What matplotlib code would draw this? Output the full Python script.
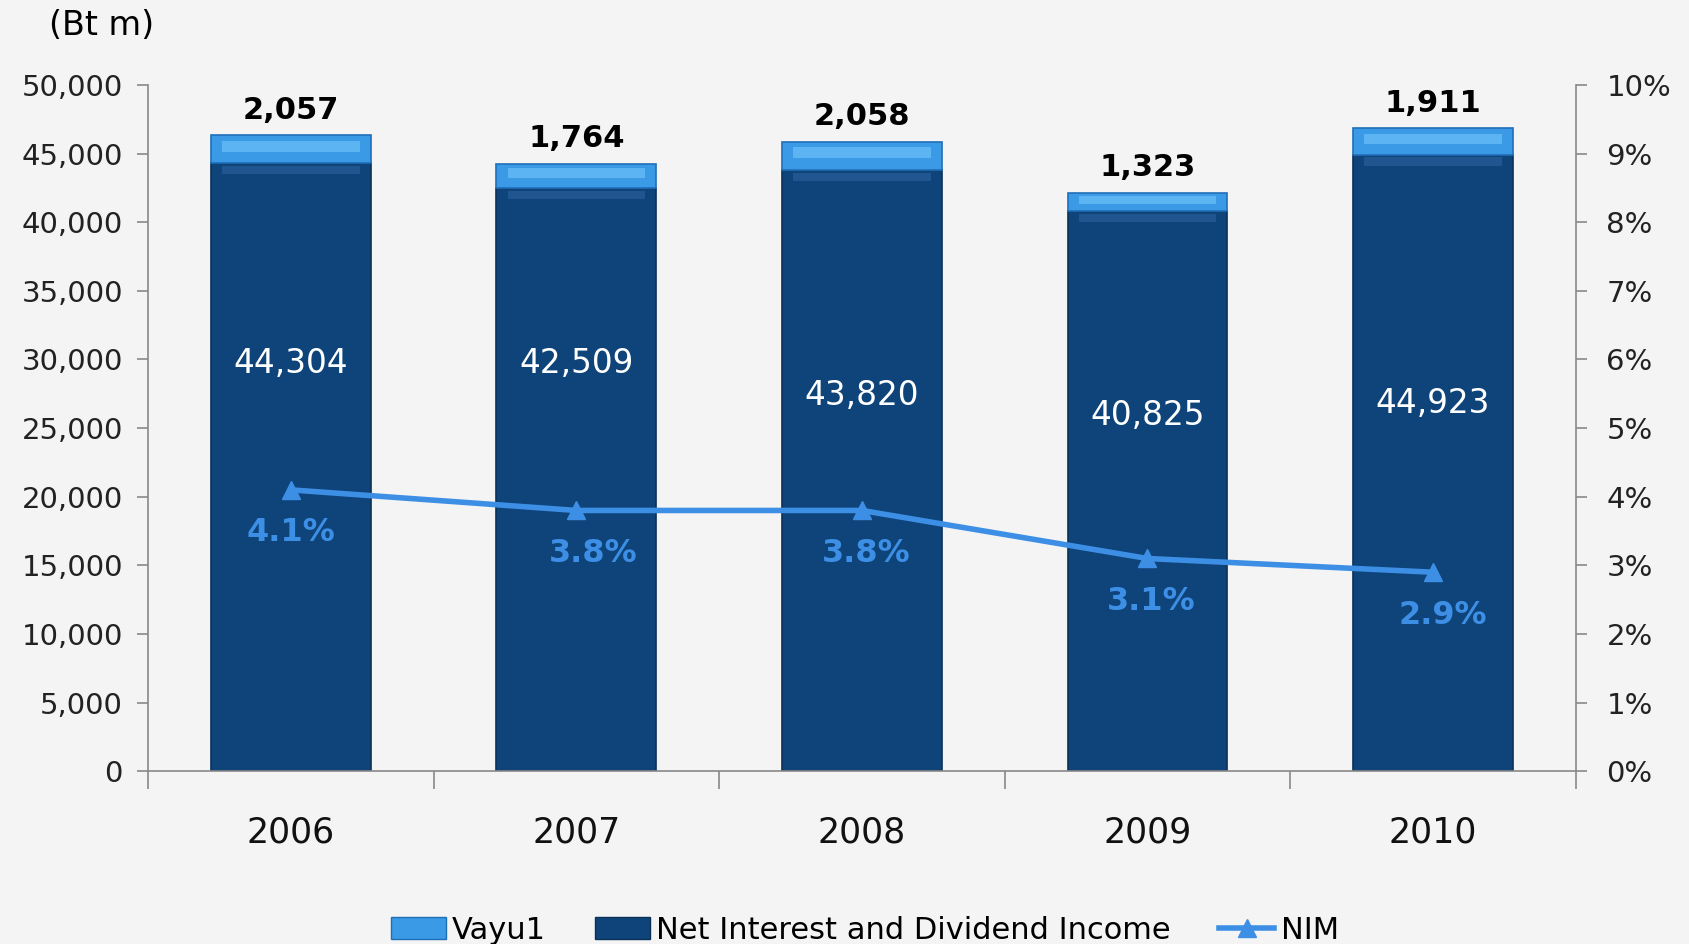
import matplotlib
matplotlib.use("Agg")
import matplotlib.pyplot as plt
from matplotlib.lines import Line2D
from matplotlib.patches import Patch
import numpy as np

years = ["2006", "2007", "2008", "2009", "2010"]
net_interest = [44304, 42509, 43820, 40825, 44923]
vayu1 = [2057, 1764, 2058, 1323, 1911]
nim = [4.1, 3.8, 3.8, 3.1, 2.9]

y_ticks = [0, 5000, 10000, 15000, 20000, 25000, 30000, 35000, 40000, 45000, 50000]
pct_ticks = list(range(0, 11))

# layout: vertical positions of the inner (white) labels, as placed in the reference
inner_label_y = [29700, 29700, 27400, 25900, 26800]
nim_label_dx = [0, 12, 3, 3, 7]

plt.rcParams['font.family'] = ['DejaVu Sans']
fig = plt.figure(figsize=(16.89, 9.44), dpi=100, facecolor='#f4f4f4')
ax = fig.add_axes([0.0876, 0.183, 0.8454, 0.727])
ax.set_facecolor('#f4f4f4')

x = np.arange(len(years))
w = 0.56
dark = '#0e4479'
light = '#3b9ae6'
ax.bar(x, net_interest, w, color=dark, edgecolor='#0a3158', linewidth=1.2, zorder=2)
ax.bar(x, vayu1, w, bottom=net_interest, color=light, edgecolor='#1f6fb8', linewidth=1.2, zorder=2)
# bevel highlights
ax.bar(x, [v * 0.40 for v in vayu1], w * 0.86,
       bottom=[n + v * 0.40 for n, v in zip(net_interest, vayu1)],
       color='#5cb4f3', linewidth=0, zorder=3)
ax.bar(x, [600] * len(years), w * 0.86,
       bottom=[n - 800 for n in net_interest],
       color='#1f5690', linewidth=0, zorder=3)

ax.set_xlim(-0.5, len(years) - 0.5)
ax.set_ylim(0, 50000)
ax.set_yticks(y_ticks)
ax.set_yticklabels([f"{v:,}" for v in y_ticks], fontsize=21, color='#222222')
ax.set_xticks(x)
ax.set_xticklabels(years, fontsize=25, color='#111111')
ax.tick_params(axis='x', length=0, pad=32)
ax.set_xticks(np.arange(-0.5, len(years), 1.0), minor=True)
ax.tick_params(axis='x', which='minor', length=13, color='#888888', width=1.2)
ax.tick_params(axis='y', length=8, color='#888888', width=1.2, pad=10)

for s in ['top', 'right']:
    ax.spines[s].set_visible(False)
for s in ['left', 'bottom']:
    ax.spines[s].set_color('#888888')
    ax.spines[s].set_linewidth(1.2)

for i in range(len(years)):
    ax.text(x[i], net_interest[i] + vayu1[i] + 750, f"{vayu1[i]:,}",
            ha='center', va='bottom', fontsize=22, fontweight='bold', color='black', zorder=5)
    ax.text(x[i], inner_label_y[i], f"{net_interest[i]:,}",
            ha='center', va='center', fontsize=23.5, color='white', zorder=5)

ax2 = ax.twinx()
ax2.set_ylim(0, 10)
ax2.set_yticks(pct_ticks)
ax2.set_yticklabels([f"{p}%" for p in pct_ticks], fontsize=21, color='#222222')
ax2.tick_params(axis='y', length=8, color='#888888', width=1.2, pad=14)
for s in ['top', 'left', 'bottom']:
    ax2.spines[s].set_visible(False)
ax2.spines['right'].set_color('#888888')
ax2.spines['right'].set_linewidth(1.2)

line_c = '#3d8fe6'
ax2.plot(x, nim, color=line_c, linewidth=4, marker='^', markersize=13, zorder=6)
for i in range(len(years)):
    ax2.annotate(f"{nim[i]:.1f}%", (x[i], nim[i]), xytext=(nim_label_dx[i], -31),
                 textcoords='offset points', ha='center', va='center',
                 fontsize=23, fontweight='bold', color=line_c, zorder=7)

fig.text(0.029, 0.973, "(Bt m)", fontsize=24, ha='left', va='center', color='black')

handles = [Patch(facecolor=light, edgecolor='#1f6fb8'),
           Patch(facecolor=dark, edgecolor='#0a3158'),
           Line2D([0], [0], color=line_c, linewidth=4, marker='^', markersize=13)]
fig.legend(handles, ["Vayu1", "Net Interest and Dividend Income", "NIM"],
           loc='lower center', bbox_to_anchor=(0.512, -0.03), ncol=3, frameon=False,
           fontsize=22, handlelength=1.8, handletextpad=0.2, columnspacing=1.6)

fig.savefig("out.png", dpi=100, facecolor=fig.get_facecolor())
